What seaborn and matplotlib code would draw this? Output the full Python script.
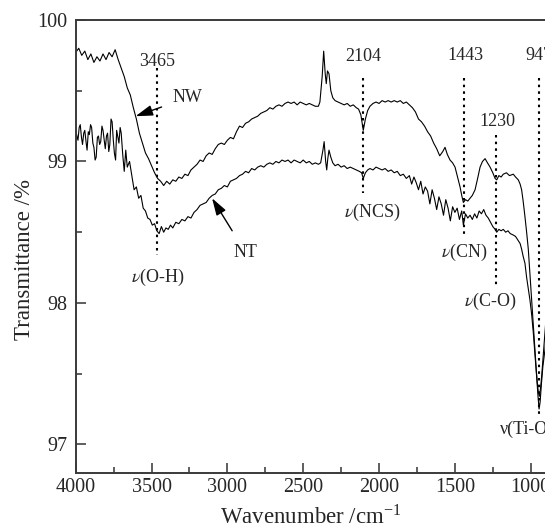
import matplotlib
matplotlib.use("Agg")
import matplotlib.pyplot as plt
from matplotlib.ticker import MultipleLocator
import numpy as np
import pandas as pd
import seaborn as sns

# ---------------- data ----------------
nw_wavenumber = [4000, 3980, 3960, 3940, 3920, 3900, 3880, 3860, 3840, 3820, 3800, 3780, 3760, 3740,
                 3720, 3700, 3680, 3660, 3640, 3620, 3600, 3580, 3560, 3540, 3520, 3500, 3480, 3460,
                 3440, 3420, 3400, 3380, 3360, 3340, 3320, 3300, 3280, 3260, 3240, 3220, 3200, 3180,
                 3160, 3140, 3120, 3100, 3080, 3060, 3040, 3020, 3000, 2980, 2960, 2940, 2920, 2900,
                 2880, 2860, 2840, 2820, 2800, 2780, 2760, 2740, 2720, 2700, 2680, 2660, 2640, 2620,
                 2600, 2580, 2560, 2540, 2520, 2500, 2480, 2460, 2440, 2420, 2400, 2390, 2375, 2365,
                 2355, 2348, 2340, 2330, 2318, 2305, 2290, 2270, 2250, 2230, 2210, 2190, 2170, 2150,
                 2135, 2120, 2104, 2090, 2075, 2060, 2040, 2020, 2000, 1980, 1960, 1940, 1920, 1900,
                 1880, 1860, 1840, 1820, 1800, 1780, 1760, 1740, 1720, 1700, 1680, 1660, 1640, 1620,
                 1600, 1580, 1565, 1550, 1532, 1515, 1499, 1480, 1466, 1455, 1444, 1430, 1415, 1400,
                 1385, 1367, 1350, 1334, 1318, 1301, 1285, 1268, 1250, 1235, 1224, 1210, 1195, 1181,
                 1160, 1140, 1115, 1100, 1082, 1070, 1060, 1050, 1038, 1027, 1016, 1005, 994, 983,
                 972, 963, 957, 950, 943, 935, 928, 918, 906, 895, 885]
nw_transmittance = [99.77, 99.80, 99.75, 99.78, 99.72, 99.76, 99.70, 99.74, 99.71, 99.76, 99.72, 99.77, 99.74, 99.79,
                    99.72, 99.66, 99.60, 99.52, 99.47, 99.38, 99.30, 99.20, 99.13, 99.06, 99.02, 98.97, 98.92, 98.88,
                    98.86, 98.83, 98.86, 98.84, 98.87, 98.86, 98.89, 98.88, 98.91, 98.90, 98.94, 98.96, 98.98, 99.01,
                    99.00, 99.04, 99.06, 99.05, 99.09, 99.12, 99.13, 99.12, 99.15, 99.17, 99.16, 99.21, 99.25, 99.24,
                    99.27, 99.28, 99.30, 99.31, 99.32, 99.34, 99.35, 99.36, 99.38, 99.37, 99.39, 99.40, 99.39, 99.41,
                    99.42, 99.41, 99.42, 99.40, 99.42, 99.41, 99.40, 99.41, 99.40, 99.39, 99.39, 99.42, 99.60, 99.78,
                    99.62, 99.55, 99.64, 99.62, 99.50, 99.45, 99.43, 99.42, 99.41, 99.40, 99.41, 99.39, 99.40, 99.38,
                    99.37, 99.33, 99.22, 99.30, 99.36, 99.39, 99.41, 99.42, 99.41, 99.43, 99.42, 99.43, 99.42, 99.43,
                    99.42, 99.43, 99.41, 99.42, 99.40, 99.38, 99.35, 99.30, 99.28, 99.25, 99.21, 99.18, 99.13, 99.09,
                    99.04, 99.07, 99.10, 99.05, 99.01, 98.99, 98.96, 98.88, 98.82, 98.76, 98.71, 98.73, 98.72, 98.74,
                    98.76, 98.80, 98.88, 98.96, 99.00, 99.02, 98.99, 98.96, 98.92, 98.88, 98.87, 98.90, 98.89, 98.91,
                    98.92, 98.90, 98.91, 98.89, 98.87, 98.84, 98.80, 98.72, 98.61, 98.50, 98.38, 98.20, 98.02, 97.85,
                    97.67, 97.52, 97.44, 97.37, 97.34, 97.40, 97.48, 97.62, 97.79, 97.95, 98.05]

nt_wavenumber = [4000, 3992, 3985, 3977, 3970, 3962, 3955, 3947, 3940, 3932, 3925, 3917, 3910, 3902,
                 3895, 3887, 3880, 3872, 3865, 3857, 3850, 3842, 3835, 3827, 3820, 3812, 3805, 3797,
                 3790, 3782, 3775, 3767, 3760, 3752, 3745, 3737, 3730, 3722, 3715, 3707, 3700, 3690,
                 3680, 3670, 3660, 3645, 3630, 3615,
                 3600, 3585, 3570, 3555, 3540, 3525, 3510, 3495, 3480, 3465, 3450, 3435, 3420, 3405,
                 3390, 3375, 3360, 3340, 3320, 3300, 3280, 3260, 3240, 3220, 3200, 3180, 3160, 3140,
                 3120, 3100, 3080, 3060, 3040, 3020, 3000, 2980, 2960, 2940, 2920, 2900, 2880, 2860,
                 2840, 2820, 2800, 2780, 2760, 2740, 2720, 2700, 2680, 2660, 2640, 2620, 2600, 2580,
                 2560, 2540, 2520, 2500, 2480, 2460, 2440, 2420, 2400, 2385, 2370, 2362, 2352, 2345,
                 2338, 2330, 2318, 2305, 2290, 2270, 2250, 2230, 2210, 2190, 2170, 2150, 2130, 2115,
                 2104, 2090, 2075, 2060, 2040, 2020, 2000, 1980, 1960, 1940, 1920, 1900, 1880, 1860,
                 1840, 1820, 1800, 1785, 1770, 1755, 1740, 1725, 1710, 1695, 1680, 1665, 1650, 1635,
                 1620, 1605, 1590, 1575, 1560, 1545, 1530, 1515, 1500, 1485, 1470, 1455, 1444, 1430,
                 1415, 1400, 1385, 1370, 1355, 1340, 1325, 1310, 1295, 1280, 1265, 1250, 1235, 1224,
                 1210, 1195, 1181, 1165, 1150, 1135, 1115, 1100, 1082, 1070, 1060, 1050, 1038, 1027,
                 1016, 1005, 994, 983, 972, 961, 952, 945, 938, 930, 920, 906, 895, 885]
nt_transmittance = [99.22, 99.18, 99.15, 99.24, 99.26, 99.17, 99.12, 99.20, 99.22, 99.14, 99.08, 99.21, 99.19, 99.26,
                    99.24, 99.13, 99.10, 99.01, 99.03, 99.17, 99.18, 99.12, 99.14, 99.25, 99.22, 99.15, 99.09, 99.18,
                    99.20, 99.07, 99.12, 99.30, 99.28, 99.15, 99.06, 99.01, 99.22, 99.17, 99.13, 99.24, 99.20, 99.05,
                    98.93, 99.08, 98.96, 99.00, 98.90, 98.80,
                    98.82, 98.74, 98.76, 98.67, 98.65, 98.60, 98.59, 98.55, 98.56, 98.51, 98.49, 98.54, 98.50, 98.53,
                    98.52, 98.55, 98.53, 98.57, 98.56, 98.59, 98.58, 98.61, 98.60, 98.64, 98.66, 98.69, 98.70, 98.71,
                    98.74, 98.76, 98.77, 98.80, 98.81, 98.83, 98.82, 98.86, 98.87, 98.88, 98.90, 98.91, 98.93, 98.92,
                    98.95, 98.94, 98.96, 98.97, 98.96, 98.98, 98.99, 98.98, 99.00, 98.99, 99.01, 99.00, 99.01, 98.99,
                    99.01, 99.00, 98.99, 99.01, 98.99, 99.00, 98.98, 98.99, 98.98, 98.99, 99.08, 99.14, 99.00, 98.94,
                    99.02, 99.08, 99.03, 98.99, 98.97, 98.98, 98.96, 98.97, 98.95, 98.96, 98.95, 98.94, 98.93, 98.92,
                    98.88, 98.92, 98.94, 98.95, 98.94, 98.96, 98.95, 98.94, 98.95, 98.93, 98.94, 98.92, 98.93, 98.90,
                    98.91, 98.88, 98.90, 98.84, 98.89, 98.85, 98.80, 98.86, 98.77, 98.82, 98.79, 98.70, 98.80, 98.74,
                    98.66, 98.75, 98.70, 98.62, 98.73, 98.67, 98.58, 98.68, 98.64, 98.67, 98.59, 98.65, 98.55, 98.63,
                    98.60, 98.62, 98.59, 98.63, 98.60, 98.65, 98.63, 98.66, 98.62, 98.60, 98.57, 98.54, 98.52, 98.50,
                    98.52, 98.51, 98.52, 98.50, 98.51, 98.49, 98.48, 98.47, 98.44, 98.42, 98.38, 98.33, 98.28, 98.18,
                    98.10, 98.02, 97.92, 97.79, 97.64, 97.48, 97.34, 97.25, 97.30, 97.42, 97.55, 97.67, 97.80, 97.90]

band_positions = [3465, 2104, 1443, 1230, 947]
band_numbers = ["3465", "2104", "1443", "1230", "947"]
band_modes = [r"$\nu$(O-H)", r"$\nu$(NCS)", r"$\nu$(CN)", r"$\nu$(C-O)", "ν(Ti-O)"]
series_names = ["NW", "NT"]

# ---------------- drawing ----------------
sns.set_style("ticks")
plt.rcParams["font.family"] = ["Liberation Serif", "DejaVu Serif"]
plt.rcParams["mathtext.fontset"] = "stix"

df = pd.concat([
    pd.DataFrame({"w": nw_wavenumber, "t": nw_transmittance, "s": series_names[0]}),
    pd.DataFrame({"w": nt_wavenumber, "t": nt_transmittance, "s": series_names[1]}),
])

fig = plt.figure(figsize=(5.45, 5.30), dpi=100)
ax = fig.add_axes([0.1389, 0.1081, 0.8683, 0.8542])

sns.lineplot(data=df, x="w", y="t", units="s", estimator=None, color="black",
             linewidth=0.8, sort=False, ax=ax, legend=False)

ax.set_xlim(4000, 880)
ax.set_ylim(96.8, 100)
ax.xaxis.set_minor_locator(MultipleLocator(250))
ax.yaxis.set_minor_locator(MultipleLocator(0.5))
ax.set_xticks([4000, 3500, 3000, 2500, 2000, 1500, 1000])
ax.set_xticklabels(["4000", "3500", "3000", "2500", "2000", "1500", "1000"])
ax.set_yticks([97, 98, 99, 100])
ax.set_yticklabels(["97", "98", "99", "100"])
ax.tick_params(axis="both", which="major", direction="in", length=7.5, width=1.1,
               labelsize=14.5, color="#333333", pad=4)
ax.tick_params(axis="both", which="minor", direction="in", length=4.3, width=1.1, color="#333333")
ax.tick_params(axis="y", which="major", pad=6)
for sp in ax.spines.values():
    sp.set_linewidth(1.4)
    sp.set_color("#3a3a3a")

ax.set_xlabel(r"Wavenumber /cm$^{\mathregular{-1}}$", fontsize=16.5)
ax.set_ylabel("Transmittance /%", fontsize=16.5)
ax.xaxis.set_label_coords(0.497, -0.072)
ax.yaxis.set_label_coords(-0.086, 0.47)

# dotted band markers
line_spans = [(99.66, 98.34), (99.59, 98.78), (99.59, 98.47), (99.19, 98.12), (99.59, 97.20)]
num_pos = [(3460, 99.71, "center"), (2104, 99.74, "center"), (1430, 99.75, "center"),
           (1222, 99.28, "center"), (1038, 99.75, "left")]
mode_pos = [(3457, 98.18, "center"), (2045, 98.64, "center"), (1440, 98.36, "center"),
            (1268, 98.01, "center"), (1205, 97.11, "left")]
for bp, (y0, y1), num, (nx, ny, nha), mode, (mx, my, ha) in zip(band_positions, line_spans, band_numbers,
                                                                 num_pos, band_modes, mode_pos):
    ax.plot([bp, bp], [y0, y1], color="black", linestyle=(0, (1.2, 2.0)), linewidth=1.5)
    ax.text(nx, ny, num, ha=nha, va="center", fontsize=13)
    ax.text(mx, my, mode, ha=ha, va="center", fontsize=13)

# series labels with arrows
ax.annotate(series_names[0], xy=(3605, 99.32), xytext=(3262, 99.45), fontsize=13,
            ha="center", va="center",
            arrowprops=dict(arrowstyle="-|>,head_length=0.8,head_width=0.25", color="black",
                            lw=1.0, shrinkA=6, shrinkB=0))
ax.annotate(series_names[1], xy=(3101, 98.74), xytext=(2882, 98.36), fontsize=13,
            ha="center", va="center",
            arrowprops=dict(arrowstyle="-|>,head_length=0.8,head_width=0.25", color="black",
                            lw=1.0, shrinkA=8, shrinkB=0))

fig.savefig("out.png", dpi=100)
